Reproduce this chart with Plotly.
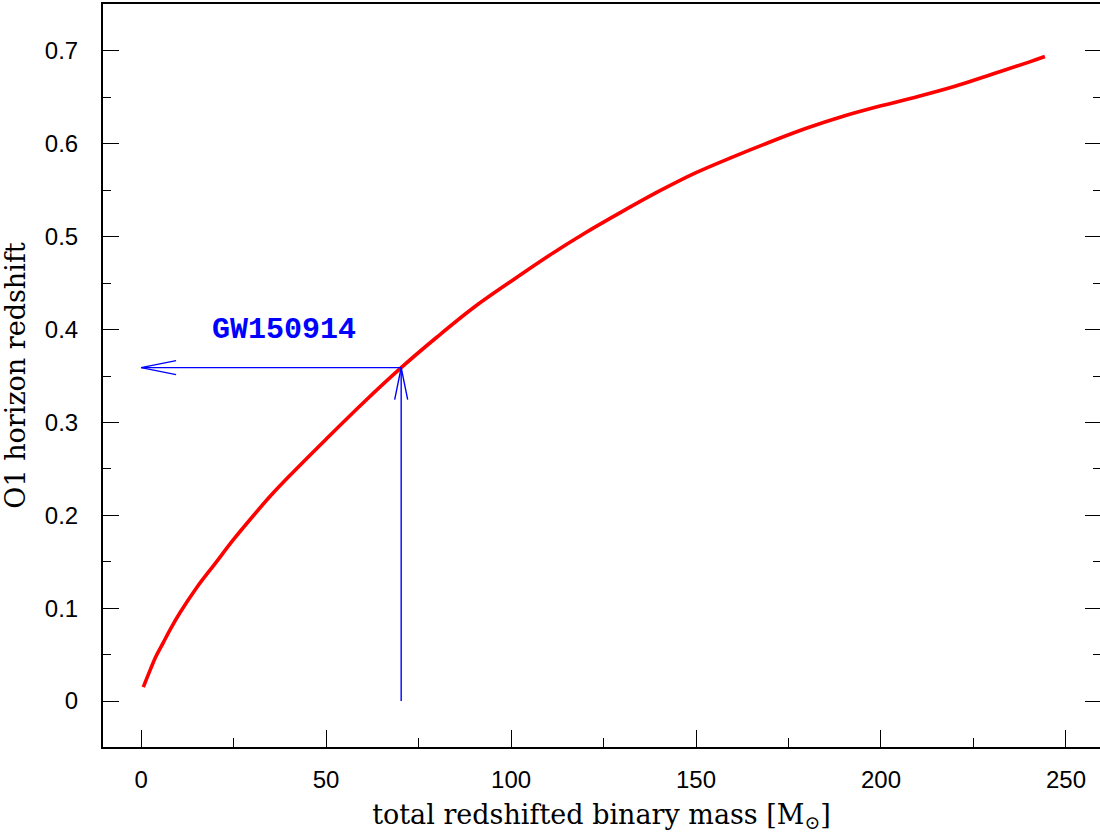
import plotly.graph_objects as go

# ---- data ----
mass = [0.6, 2, 4, 6, 8, 10.5, 15, 20, 25, 30, 35, 40, 50, 60, 70.3,
        80, 90, 100, 110, 120, 130, 140, 150, 160, 170, 180, 190, 200,
        210, 220, 230, 240, 244.3]
z_horizon = [0.015, 0.029, 0.048, 0.063, 0.078, 0.095, 0.122, 0.148, 0.174, 0.198, 0.221, 0.242, 0.282, 0.321, 0.359,
             0.392, 0.424, 0.452, 0.479, 0.504, 0.527, 0.549, 0.569, 0.586, 0.602, 0.617, 0.630, 0.641,
             0.651, 0.662, 0.675, 0.688, 0.694]

gw_label = "GW150914"
gw_mass = 70.3
gw_z = 0.359
label_pos = (38.5, 0.40)

x_ticks = [0, 50, 100, 150, 200, 250]
y_ticks = [0, 0.1, 0.2, 0.3, 0.4, 0.5, 0.6, 0.7]
y_ticktext = ["0", "0.1", "0.2", "0.3", "0.4", "0.5", "0.6", "0.7"]
x_range = [-10.3, 259.2]
y_range = [-0.0495, 0.7506]

W, H = 1100, 838
M = dict(l=103, r=0, t=4, b=91)
pw = W - M["l"] - M["r"]
ph = H - M["t"] - M["b"]
sx = pw / (x_range[1] - x_range[0])   # px per mass unit
sy = ph / (y_range[1] - y_range[0])   # px per z unit

fig = go.Figure()
fig.add_trace(go.Scatter(x=mass, y=z_horizon, mode="lines",
                         line=dict(color="#ff0000", width=3.6, shape="spline", smoothing=1.0),
                         hoverinfo="skip", showlegend=False))

blue = dict(color="#0000ff", width=1.4)
# horizontal arrow (GW point -> y axis at mass 0)
hx_tip = 0.0
hl, hw = 35 / sx, 7 / sy
fig.add_trace(go.Scatter(x=[gw_mass, hx_tip, None, hx_tip + hl, hx_tip, hx_tip + hl],
                         y=[gw_z, gw_z, None, gw_z + hw, gw_z, gw_z - hw],
                         mode="lines", line=blue, hoverinfo="skip", showlegend=False))
# vertical arrow (z=0 -> GW point)
vl, vw = 32 / sy, 6.5 / sx
fig.add_trace(go.Scatter(x=[gw_mass, gw_mass, None, gw_mass - vw, gw_mass, gw_mass + vw],
                         y=[0, gw_z, None, gw_z - vl, gw_z, gw_z - vl],
                         mode="lines", line=blue, hoverinfo="skip", showlegend=False))
# invisible trace to activate right-side axis ticks
fig.add_trace(go.Scatter(x=[None], y=[None], yaxis="y2", showlegend=False, hoverinfo="skip"))

fig.add_annotation(x=label_pos[0], y=label_pos[1], text="<b>%s</b>" % gw_label, showarrow=False,
                   font=dict(family="Liberation Mono", size=30, color="#0000ff"),
                   xanchor="center", yanchor="middle")

tickfont = dict(family="Liberation Sans", size=24, color="black")
titlefont = dict(family="DejaVu Serif", size=27, color="black")
fig.update_layout(
    width=W, height=H, margin=M,
    paper_bgcolor="white", plot_bgcolor="white",
    xaxis=dict(range=x_range, tickvals=x_ticks, ticks="inside", ticklen=17, tickwidth=1.3,
               tickcolor="black", showgrid=False, zeroline=False, showline=True, mirror=True,
               linecolor="black", linewidth=2, tickfont=tickfont, ticklabelstandoff=10,
               minor=dict(dtick=25, tick0=0, ticks="inside", ticklen=9, tickwidth=1, tickcolor="black", showgrid=False),
               title=dict(text="total redshifted binary mass [M<sub>⊙</sub>]", font=titlefont, standoff=13)),
    yaxis=dict(range=y_range, tickvals=y_ticks, ticktext=y_ticktext,
               ticks="inside", ticklen=16, tickwidth=1.3,
               tickcolor="black", showgrid=False, zeroline=False, showline=True,
               linecolor="black", linewidth=2, tickfont=tickfont, ticklabelstandoff=18,
               minor=dict(dtick=0.05, tick0=0, ticks="inside", ticklen=8, tickwidth=1, tickcolor="black", showgrid=False),
               title=dict(text="O1 horizon redshift", font=titlefont, standoff=11)),
    yaxis2=dict(range=y_range, overlaying="y", side="right", matches="y", tickvals=y_ticks,
                ticks="inside", ticklen=15, tickwidth=1.3, tickcolor="black", showticklabels=False,
                showgrid=False, zeroline=False, showline=False,
                minor=dict(dtick=0.05, tick0=0, ticks="inside", ticklen=7, tickwidth=1, tickcolor="black", showgrid=False)),
)

fig.write_html("out.html")
